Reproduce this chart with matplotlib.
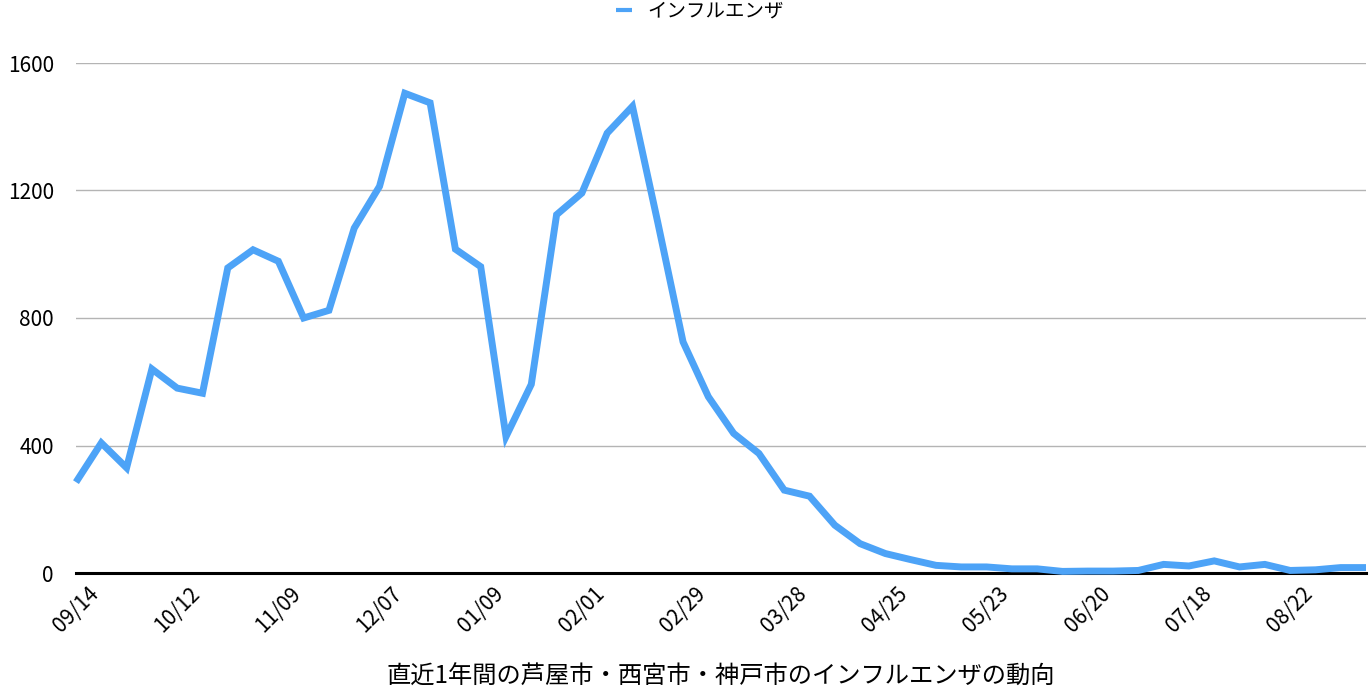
import matplotlib.pyplot as plt

plt.rcParams['font.family'] = ['Noto Sans CJK JP', 'DejaVu Sans']

# weekly counts, 52 weeks
weeks = list(range(52))
values = [285, 408, 330, 640, 580, 564, 957, 1014, 978, 800,
          824, 1082, 1213, 1505, 1475, 1016, 961, 428, 592, 1124,
          1192, 1380, 1464, 1100, 725, 553, 438, 375, 260, 241,
          150, 92, 61, 42, 24, 19, 19, 13, 13, 5,
          6, 6, 8, 27, 22, 38, 19, 27, 8, 10,
          17, 17]
tick_pos = [0, 4, 8, 12, 16, 20, 24, 28, 32, 36, 40, 44, 48]
tick_labels = ["09/14", "10/12", "11/09", "12/07", "01/09", "02/01", "02/29",
               "03/28", "04/25", "05/23", "06/20", "07/18", "08/22"]
y_ticks = [0, 400, 800, 1200, 1600]

fig = plt.figure(figsize=(13.7, 6.98), dpi=100)
ax = fig.add_axes([76 / 1370, 1 - 573 / 698, 1290 / 1370, 510 / 698])

line, = ax.plot(weeks, values, color="#4da3f7", lw=5, solid_joinstyle="miter",
                solid_capstyle="butt", clip_on=False, zorder=3, label="インフルエンザ")

ax.set_xlim(0, 51)
ax.set_ylim(0, 1600)
ax.set_yticks(y_ticks)
ax.set_yticklabels([str(v) for v in y_ticks], fontsize=15)
ax.set_xticks(tick_pos)
ax.set_xticklabels(tick_labels, rotation=45, fontsize=15)
ax.tick_params(axis="both", length=0)
ax.tick_params(axis="y", pad=16)
ax.tick_params(axis="x", pad=7)

ax.grid(axis="y", color="#b4b4b4", lw=1)
ax.set_axisbelow(True)
for s in ["left", "right", "top"]:
    ax.spines[s].set_visible(False)
ax.spines["bottom"].set_color("black")
ax.spines["bottom"].set_linewidth(2.2)
ax.spines["bottom"].set_zorder(2)

leg = fig.legend(handles=[line], loc="center", bbox_to_anchor=(700 / 1370, 1 - 11 / 698),
                 frameon=False, fontsize=14, handlelength=0.85, handletextpad=0.8)
leg.get_lines()[0].set_linewidth(3)

fig.text(721 / 1370, 1 - 677 / 698, "直近1年間の芦屋市・西宮市・神戸市のインフルエンザの動向",
         ha="center", va="center", fontsize=17.5)

fig.savefig("out.png", dpi=100)
